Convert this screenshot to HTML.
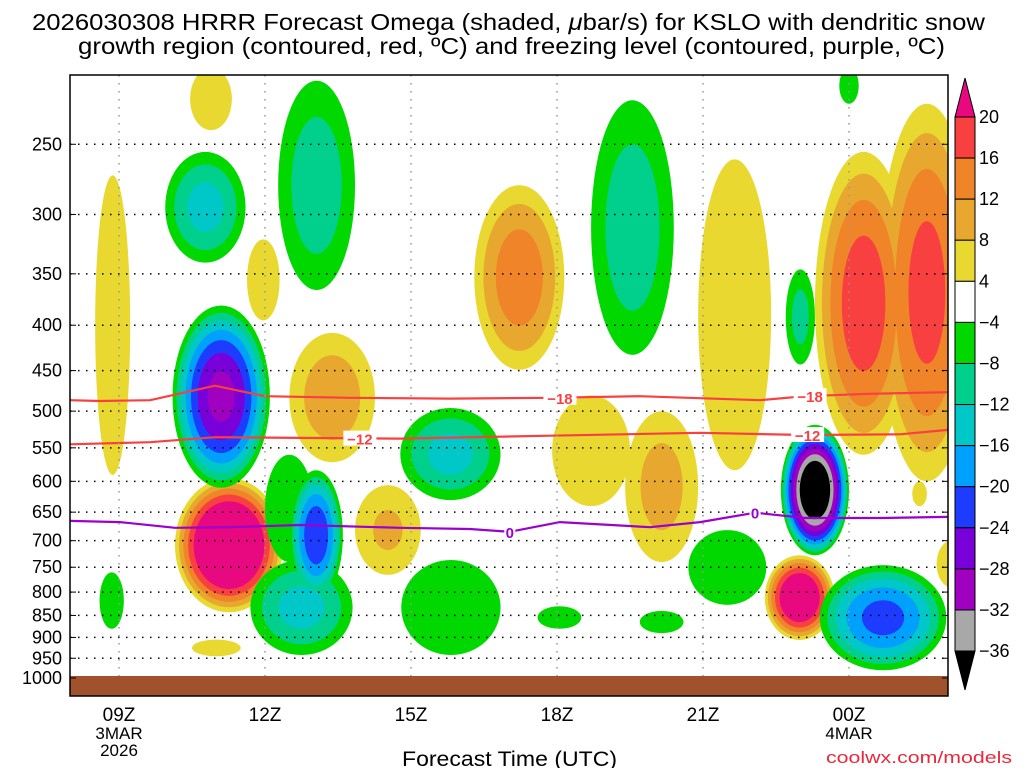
<!DOCTYPE html>
<html><head><meta charset="utf-8"><style>
body{margin:0;background:#fff;}
svg{display:block;font-family:"Liberation Sans",sans-serif;}
</style></head><body>
<svg id="c" width="1024" height="768" viewBox="0 0 1024 768">
<text x="32" y="30" font-size="23" textLength="953" lengthAdjust="spacingAndGlyphs">2026030308 HRRR Forecast Omega (shaded, <tspan font-style="italic">μ</tspan>bar/s) for KSLO with dendritic snow</text>
<text x="78" y="54" font-size="23" textLength="867" lengthAdjust="spacingAndGlyphs">growth region (contoured, red, ºC) and freezing level (contoured, purple, ºC)</text>
<g id="plot"></g>
<text x="402" y="766" font-size="21" textLength="215" lengthAdjust="spacingAndGlyphs">Forecast Time (UTC)</text>
<text x="826" y="763" font-size="17" textLength="186" lengthAdjust="spacingAndGlyphs" fill="#e8283c">coolwx.com/models</text>
</svg>
<script>
// ---- data ----
const pressureTicks=[250,300,350,400,450,500,550,600,650,700,750,800,850,900,950,1000];
const timeTicks=[9,12,15,18,21,24];
const timeLabels=["09Z","12Z","15Z","18Z","21Z","00Z"];
const dateLabels=[["3MAR","2026"],[],[],[],[],["4MAR"]];
const posStart=[8.51,10.46,11.63,12.5,10.15,10.5,16.3,13.85,17.9,19.4,20.9,23.3,24.6,22.27,25.3,25.8];
const posEnd  =[9.23,11.32,12.3,14.26,12.37,11.5,18.15,15.2,19.5,20.9,22.4,25.3,26.6,23.7,25.6,26.4];
const posPTop =[271,205,320,408,595,905,278,606,480,500,260,255,225,727,600,700];
const posPBot =[590,241,395,571,843,945,449,765,640,740,583,560,600,906,640,790];
const posPeak =[6,6,5,11,32,5,15,9,6,10,5,19,18,28,5,5];
const negStart=[9.95,10.1,12.5,11.7,12.0,12.27,8.6,14.78,14.8,17.6,19.7,18.7,22.7,23.8,22.6,20.7,23.4];
const negEnd  =[11.6,12.1,13.6,13.8,13.0,13.85,9.1,16.84,16.84,18.5,20.6,20.4,23.3,24.2,24.0,22.3,26.0];
const negPTop =[255,380,583,736,560,212,760,496,736,830,840,223,346,205,518,681,746];
const negPBot =[340,610,817,942,740,365,880,630,942,880,890,432,443,225,727,827,980];
const negPeak =[14,30,24,14,5,11,6,14,7,6,6,11,10,6,44,7,22];
const line18Hours=[7.99,8.61,9.64,10.97,12.0,13.75,15.8,17.86,19.7,22.17,23.1,24.43,26.03];
const line18P   =[486,487,486,468,481,483,484,483,481,486,481,478,476];
const line12Hours=[7.99,9.64,10.97,12.72,14.77,17.86,20.94,23.1,25.05,26.03];
const line12P   =[545,542,535,536,537,533,529,532,531,525];
const line0Hours=[7.99,9.02,10.15,11.28,12.72,14.77,16.21,17.03,18.06,19.91,20.94,22.07,23.1,24.64,26.03];
const line0P   =[665,667,677,676,672,677,679,684,667,676,667,651,660,660,658];
const cbLabels=["20","16","12","8","4","−4","−8","−12","−16","−20","−24","−28","−32","−36"];
// ---- scales ----
const L=70,R=948,T=75,B=696;
const X=h=>119+(h-9)*48.667;
const Y=p=>678-385*Math.log(1000/p);
const NS="http://www.w3.org/2000/svg";
const plot=document.getElementById('plot');
const svg=document.getElementById('c');
function mk(tag,attrs,parent){const e=document.createElementNS(NS,tag);for(const k in attrs)e.setAttribute(k,attrs[k]);(parent||plot).appendChild(e);return e;}
const posCols=["#e8d830","#e8a830","#f08428","#f84040","#e8087f"];
const negCols=["#00d800","#00d08c","#00c8c8","#00a0ff","#1e3cff","#7800d8","#a000c0","#a8a8a8","#000000"];
const clip=mk('clipPath',{id:'pc'},svg);mk('rect',{x:L,y:T,width:R-L,height:B-T},clip);
const g=mk('g',{'clip-path':'url(#pc)'});
function drawSet(st,en,pt,pb,pk,cols,name){
  for(let li=0;li<cols.length;li++){
    const lev=4*(li+1);
    for(let i=0;i<st.length;i++){
      if(pk[i]<=lev)continue;
      const s=Math.sqrt(1-lev/pk[i])/Math.sqrt(1-4/pk[i]);
      const cx=(X(st[i])+X(en[i]))/2,cy=(Y(pt[i])+Y(pb[i]))/2;
      const rx=(X(en[i])-X(st[i]))/2*s,ry=(Y(pb[i])-Y(pt[i]))/2*s;
      const e=mk('ellipse',{cx:cx,cy:cy,rx:rx,ry:ry,fill:cols[li]},g);
      
      
    }
  }
}
drawSet(posStart,posEnd,posPTop,posPBot,posPeak,posCols,'ascent-blob');
drawSet(negStart,negEnd,negPTop,negPBot,negPeak,negCols,'omega-blob');
// ground
const gr=mk('rect',{x:L,y:676,width:R-L,height:B-676,fill:'#a0522d'});

// grid
pressureTicks.forEach(p=>{
  if(p===1000)return;
  const l=mk('line',{x1:L,x2:R,y1:Y(p),y2:Y(p),stroke:'#000','stroke-width':1.5,'stroke-dasharray':'1.5,6.5'});
  
});
timeTicks.forEach(h=>{
  const l=mk('line',{x1:X(h),x2:X(h),y1:T,y2:676,stroke:'#999','stroke-width':1.5,'stroke-dasharray':'1.5,6.5'});
  
});
// contour lines
function line(hs,ps,col,name){
  const d=hs.map((h,i)=>(i?'L':'M')+X(h).toFixed(1)+','+Y(ps[i]).toFixed(1)).join('');
  const p=mk('path',{d:d,fill:'none',stroke:col,'stroke-width':2.2},g);
  
}
line(line18Hours,line18P,'#f84040','isotherm-minus-18');
line(line12Hours,line12P,'#f84040','isotherm-minus-12');
line(line0Hours,line0P,'#9a00d0','freezing-level-0');
function lab(h,p,t,col){
  const x=X(h),y=Y(p);
  const r=mk('rect',{x:x-t.length*5.5,y:y-8,width:t.length*11,height:15,fill:'#fff'});
  
  const tx=mk('text',{x:x,y:y+6,'font-size':15,'font-weight':'bold','text-anchor':'middle',fill:col});
  tx.textContent=t;
}
lab(18.06,483,'−18','#f84040');lab(23.2,481,'−18','#f84040');
lab(13.95,537,'−12','#f84040');lab(23.15,532,'−12','#f84040');
lab(17.03,684,'0','#9a00d0');lab(22.07,651,'0','#9a00d0');
// frame
const fr=mk('rect',{x:L,y:T,width:R-L,height:B-T,fill:'none',stroke:'#000','stroke-width':1.5});

// y labels
pressureTicks.forEach(p=>{
  const t=mk('text',{x:62,y:Y(p)+6,'font-size':18,'text-anchor':'end'});t.textContent=p;
  
  mk('line',{x1:L,x2:L+6,y1:Y(p),y2:Y(p),stroke:'#000'});
  mk('line',{x1:R-6,x2:R,y1:Y(p),y2:Y(p),stroke:'#000'});
});
timeTicks.forEach((h,i)=>{
  const t=mk('text',{x:X(h),y:721,'font-size':19,'text-anchor':'middle'});t.textContent=timeLabels[i];
  
  dateLabels[i].forEach((d,j)=>{
    const u=mk('text',{x:X(h),y:739+j*17,'font-size':17,'text-anchor':'middle'});u.textContent=d;
    
  });
});
// colorbar
const cb=mk('g',{},svg);
const cbCols=["#f84040","#f08428","#e8a830","#e8d830","#ffffff"].concat(negCols.slice(0,8));
const cbTop=117,cbStep=41.08,cbX=955,cbW=20;
mk('polygon',{points:`${cbX},${cbTop} ${cbX+cbW},${cbTop} ${cbX+cbW/2},78`,fill:'#e8087f',stroke:'#000'},cb);
cbCols.forEach((c,i)=>mk('rect',{x:cbX,y:cbTop+i*cbStep,width:cbW,height:cbStep,fill:c,stroke:'#000'},cb));
const cbBot=cbTop+13*cbStep;
mk('polygon',{points:`${cbX},${cbBot} ${cbX+cbW},${cbBot} ${cbX+cbW/2},690`,fill:'#000',stroke:'#000'},cb);
cbLabels.forEach((t,i)=>{const e=mk('text',{x:979,y:cbTop+i*cbStep+6,'font-size':18},cb);e.textContent=t;
  });
</script>
</body></html>
